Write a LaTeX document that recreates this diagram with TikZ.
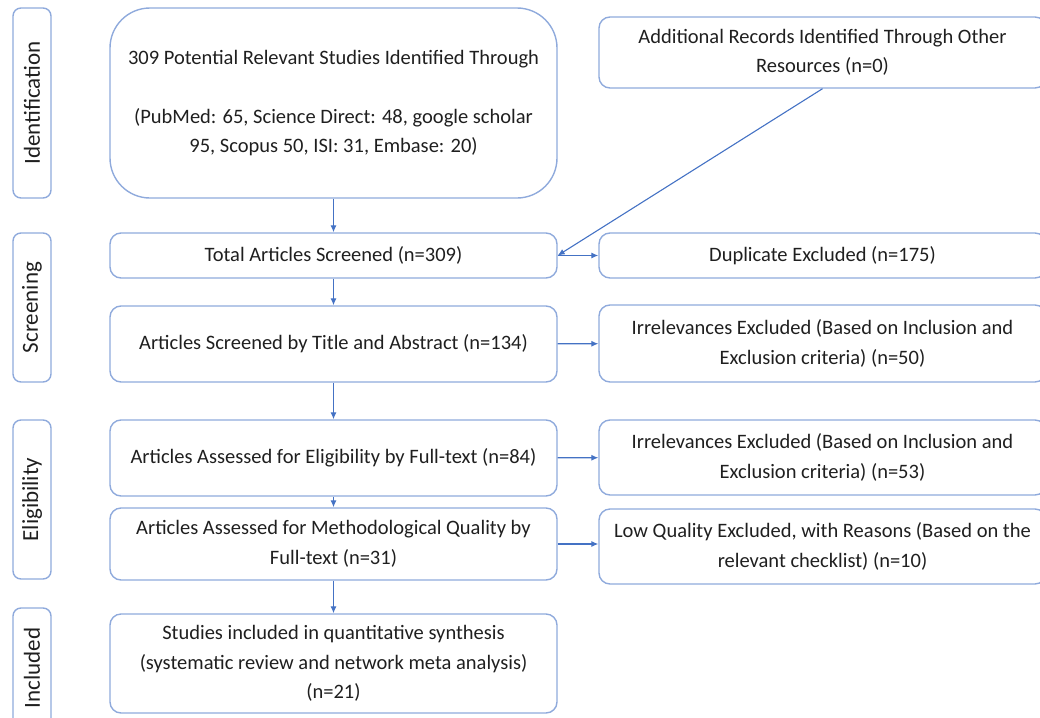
\documentclass[tikz,border=0pt]{standalone}
\usepackage{fontspec}
\setmainfont{Carlito}
\usepackage{tikz}
\usetikzlibrary{arrows.meta, calc}
\definecolor{boxblue}{HTML}{8FAADC}
\definecolor{arrowblue}{HTML}{4472C4}
\definecolor{inkgray}{HTML}{1F1F1F}

\begin{document}
\begin{tikzpicture}[x=1pt, y=-1pt,
        every node/.style={text=inkgray, font=\fontsize{20.5}{29.5}\selectfont, align=center, inner sep=0pt},
        flowbox/.style={draw=boxblue, line width=1.4pt, rounded corners=11pt, minimum width=447pt},
        phase/.style={draw=boxblue, line width=1.4pt, rounded corners=8pt, rotate=90, minimum height=38pt,
            font=\fontsize{23}{28}\selectfont},
        flow/.style={draw=arrowblue, line width=1.1pt, -{Latex[length=7pt, width=6pt]}}]
    \path[use as bounding box, clip] (0,0) rectangle (1040,717);
    % stage labels
    \node[phase, minimum width=190pt] (pid) at (32,103) {Identification};
    \node[phase, minimum width=149pt] (pscr) at (32,307.5) {Screening};
    \node[phase, minimum width=159pt] (pelig) at (32,499.5) {Eligibility};
    \node[phase, minimum width=120pt] (pinc) at (32,668) {Included};
    % main column
    \node[flowbox, rounded corners=40pt, minimum height=190pt] (found) at (333.5,103)
        {309 Potential Relevant Studies Identified Through\\[29.5pt]
         (PubMed: 65, Science Direct: 48, google scholar\\
         95, Scopus 50, ISI: 31, Embase: 20)};
    \node[flowbox, minimum height=45pt] (total) at (333.5,255.5) {Total Articles Screened (n=309)};
    \node[flowbox, minimum height=76pt] (title) at (333.5,344) {Articles Screened by Title and Abstract (n=134)};
    \node[flowbox, minimum height=76pt] (full) at (333.5,458) {Articles Assessed for Eligibility by Full-text (n=84)};
    \node[flowbox, minimum height=72pt] (method) at (333.5,544)
        {Articles Assessed for Methodological Quality by\\ Full-text (n=31)};
    \node[flowbox, minimum height=99pt] (incl) at (333.5,663.5)
        {Studies included in quantitative synthesis\\ (systematic review and network meta analysis)\\ (n=21)};
    % side column
    \node[flowbox, minimum height=71pt] (other) at (822.5,52.5)
        {Additional Records Identified Through Other\\ Resources (n=0)};
    \node[flowbox, minimum height=45pt] (dup) at (822.5,255.5) {Duplicate Excluded (n=175)};
    \node[flowbox, minimum height=77pt] (irr1) at (822.5,343.5)
        {Irrelevances Excluded (Based on Inclusion and\\ Exclusion criteria) (n=50)};
    \node[flowbox, minimum height=75pt] (irr2) at (822.5,457.5)
        {Irrelevances Excluded (Based on Inclusion and\\ Exclusion criteria) (n=53)};
    \node[flowbox, minimum height=75pt] (low) at (822.5,546.5)
        {Low Quality Excluded, with Reasons (Based on the\\ relevant checklist) (n=10)};
    % connectors
    \draw[flow] (found) -- (total);
    \draw[flow] (total) -- (title);
    \draw[flow] (title) -- (full);
    \draw[flow] (full) -- (method);
    \draw[flow] (method) -- (incl);
    \draw[flow] (other.south) -- (total.east);
    \draw[flow] (total) -- (dup);
    \draw[flow] (title) -- (irr1);
    \draw[flow] (full) -- (irr2);
    \draw[flow] (method.east) -- (method.east -| low.west);
\end{tikzpicture}
\end{document}
